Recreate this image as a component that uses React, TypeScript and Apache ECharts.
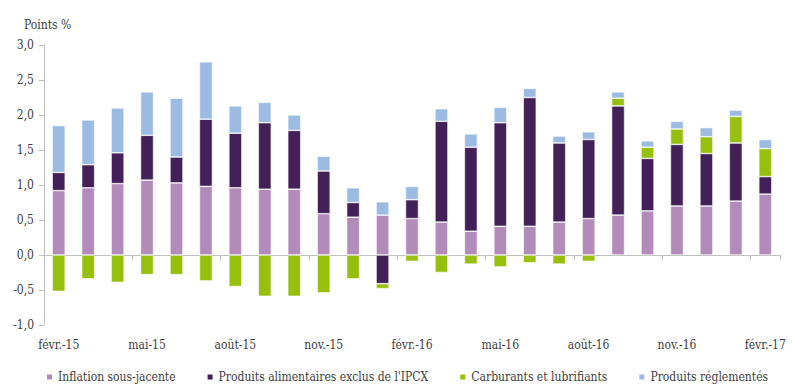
import React, { useEffect, useRef } from "react";
import * as echarts from "echarts";

const categories = [
  "févr.-15", "mars-15", "avr.-15", "mai-15", "juin-15", "juil.-15", "août-15", "sept.-15", "oct.-15",
  "nov.-15", "déc.-15", "janv.-16", "févr.-16", "mars-16", "avr.-16", "mai-16", "juin-16", "juil.-16",
  "août-16", "sept.-16", "oct.-16", "nov.-16", "déc.-16", "janv.-17", "févr.-17",
];

const inflationSousJacente = [
  0.92, 0.96, 1.02, 1.07, 1.03, 0.98, 0.96, 0.94, 0.94, 0.59, 0.54, 0.57,
  0.52, 0.47, 0.34, 0.41, 0.41, 0.47, 0.52, 0.57, 0.63, 0.70, 0.70, 0.77, 0.87,
];
const produitsAlimentaires = [
  0.26, 0.33, 0.44, 0.64, 0.37, 0.96, 0.78, 0.95, 0.84, 0.61, 0.21, -0.41,
  0.27, 1.44, 1.20, 1.48, 1.84, 1.13, 1.13, 1.56, 0.75, 0.88, 0.75, 0.83, 0.25,
];
const carburants = [
  -0.52, -0.34, -0.39, -0.28, -0.28, -0.37, -0.45, -0.59, -0.59, -0.54, -0.34, -0.07,
  -0.09, -0.25, -0.13, -0.17, -0.11, -0.13, -0.09, 0.11, 0.16, 0.22, 0.24, 0.38, 0.40,
];
const produitsReglementes = [
  0.67, 0.64, 0.64, 0.62, 0.84, 0.82, 0.39, 0.29, 0.22, 0.21, 0.21, 0.19,
  0.19, 0.18, 0.19, 0.22, 0.13, 0.10, 0.11, 0.09, 0.09, 0.11, 0.13, 0.09, 0.13,
];
const yTicks = [-1, -0.5, 0, 0.5, 1, 1.5, 2, 2.5, 3];

const seriesNames = [
  "Inflation sous-jacente",
  "Produits alimentaires exclus de l'IPCX",
  "Carburants et lubrifiants",
  "Produits réglementés",
];
const colors = ["#b28bba", "#432158", "#97bf0d", "#9cbbe3"];
const TEXT = "#404040";
const FONT = "DejaVu Serif Condensed";

export default function App() {
  const ref = useRef<HTMLDivElement>(null);
  useEffect(() => {
    if (!ref.current) return;
    const chart = echarts.init(ref.current, undefined, { renderer: "svg" });
    const data = [inflationSousJacente, produitsAlimentaires, carburants, produitsReglementes];
    chart.setOption({
      animation: false,
      title: {
        text: "Points %",
        left: 19,
        top: 14,
        textStyle: { fontFamily: FONT, fontSize: 12, fontWeight: "normal", color: TEXT },
      },
      grid: { left: 44, right: 13, top: 45, bottom: 67 },
      legend: {
        bottom: 4,
        left: 40,
        itemWidth: 7,
        itemHeight: 7,
        itemGap: 30,
        icon: "rect",
        textStyle: { fontFamily: FONT, fontSize: 12, color: TEXT },
        data: seriesNames,
      },
      xAxis: [
        {
          type: "category",
          data: categories,
          axisLine: { onZero: true, lineStyle: { color: "#bfbfbf", width: 1 } },
          axisTick: { show: true, interval: 2, length: 5, lineStyle: { color: "#bfbfbf" } },
          axisLabel: { show: false },
        },
        {
          type: "category",
          data: categories,
          position: "bottom",
          axisLine: { show: false, onZero: false },
          axisTick: { show: false },
          axisLabel: {
            interval: 2,
            margin: 14,
            fontFamily: FONT,
            fontSize: 12,
            color: TEXT,
          },
        },
      ],
      yAxis: {
        type: "value",
        min: -1,
        max: 3,
        interval: 0.5,
        axisLine: { show: true, lineStyle: { color: "#bfbfbf" } },
        axisTick: { show: true, length: 5, lineStyle: { color: "#bfbfbf" } },
        splitLine: { show: false },
        axisLabel: {
          margin: 10,
          fontFamily: FONT,
          fontSize: 12,
          color: TEXT,
          formatter: (v: number) => (yTicks.includes(v) ? v.toFixed(1).replace(".", ",") : ""),
        },
      },
      series: seriesNames.map((name, i) => ({
        name,
        type: "bar",
        stack: "total",
        xAxisIndex: 0,
        barWidth: 13,
        data: data[i],
        itemStyle: { color: colors[i], borderColor: "#ffffff", borderWidth: 0.6 },
      })),
    });
    return () => chart.dispose();
  }, []);
  return (
    <div
      ref={ref}
      style={{ position: "absolute", left: 0, top: 0, width: 793, height: 392 }}
    />
  );
}
